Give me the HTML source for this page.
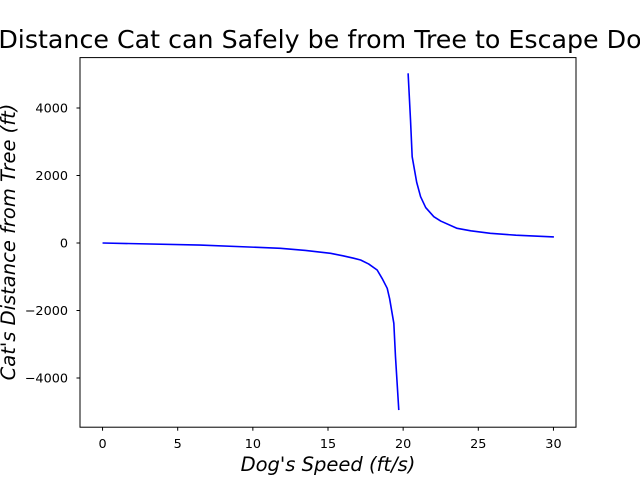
<!DOCTYPE html>
<html><head><meta charset="utf-8"><style>
body{margin:0;background:#fff;}
svg{display:block;font-family:"DejaVu Sans","Liberation Sans",sans-serif;}
</style></head><body>
<svg id="chart" width="640" height="480" viewBox="0 0 640 480">
<rect width="640" height="480" fill="#fff"/>
<text x="328" y="48" font-size="25.3" text-anchor="middle">Distance Cat can Safely be from Tree to Escape Dog</text>
<g id="plot"></g>
<rect x="80" y="57.6" width="496" height="369.6" fill="none" stroke="#000" stroke-width="1"/>
<text x="328" y="471" font-size="19.5" font-style="italic" text-anchor="middle">Dog's Speed (ft/s)</text>
<text transform="translate(15,242) rotate(-90)" font-size="19.5" font-style="italic" text-anchor="middle">Cat's Distance from Tree (ft)</text>
</svg>
<script>
const leftX = [0, 6.5, 11.84, 13.5, 15.17, 16.0, 16.7, 17.17, 17.7, 18.27, 18.6, 18.94, 19.1, 19.38, 19.49, 19.71];
const leftY = [0, -60, -157, -220, -306, -380, -450, -504, -620, -800, -1050, -1343, -1650, -2380, -3368, -4950];
const rightX = [20.33, 20.49, 20.6, 20.9, 21.16, 21.5, 22.04, 22.5, 23.59, 24.5, 25.8, 27.5, 30.03];
const rightY = [5027, 3644, 2557, 1800, 1372, 1050, 780, 650, 434, 360, 287, 230, 178];
const xTicks = [0, 5, 10, 15, 20, 25, 30];
const yTicks = [-4000, -2000, 0, 2000, 4000];

const X0 = 80, X1 = 576, Y0 = 427.2, Y1 = 57.6;
const xmin = -1.5, xmax = 31.5, ymin = -5458, ymax = 5493;
const sx = v => X0 + (v - xmin) / (xmax - xmin) * (X1 - X0);
const sy = v => Y0 - (v - ymin) / (ymax - ymin) * (Y0 - Y1);
const NS = "http://www.w3.org/2000/svg";
const plot = document.getElementById('plot');

function series(xs, ys, name) {
  const p = document.createElementNS(NS, 'polyline');
  p.setAttribute('points', xs.map((x, i) => sx(x) + ',' + sy(ys[i])).join(' '));
  p.setAttribute('fill', 'none');
  p.setAttribute('stroke', '#0000ff');
  p.setAttribute('stroke-width', '1.6');
  p.setAttribute('stroke-linejoin', 'round');
  
  
  plot.appendChild(p);
}
series(leftX, leftY, 'distance-line-left-branch');
series(rightX, rightY, 'distance-line-right-branch');

xTicks.forEach(t => {
  const x = sx(t);
  const l = document.createElementNS(NS, 'line');
  l.setAttribute('x1', x); l.setAttribute('x2', x);
  l.setAttribute('y1', Y0); l.setAttribute('y2', Y0 + 3.5);
  l.setAttribute('stroke', '#000');
  
  
  plot.appendChild(l);
  const tx = document.createElementNS(NS, 'text');
  tx.setAttribute('x', x); tx.setAttribute('y', Y0 + 21);
  tx.setAttribute('font-size', '12.8'); tx.setAttribute('text-anchor', 'middle');
  tx.textContent = t;
  
  
  plot.appendChild(tx);
});
yTicks.forEach(t => {
  const y = sy(t);
  const l = document.createElementNS(NS, 'line');
  l.setAttribute('x1', X0 - 3.5); l.setAttribute('x2', X0);
  l.setAttribute('y1', y); l.setAttribute('y2', y);
  l.setAttribute('stroke', '#000');
  
  
  plot.appendChild(l);
  const tx = document.createElementNS(NS, 'text');
  tx.setAttribute('x', X0 - 12); tx.setAttribute('y', y + 4.6);
  tx.setAttribute('font-size', '12.8'); tx.setAttribute('text-anchor', 'end');
  tx.textContent = t < 0 ? '\u2212' + Math.abs(t) : String(t);
  
  
  plot.appendChild(tx);
});
</script>
</body></html>
